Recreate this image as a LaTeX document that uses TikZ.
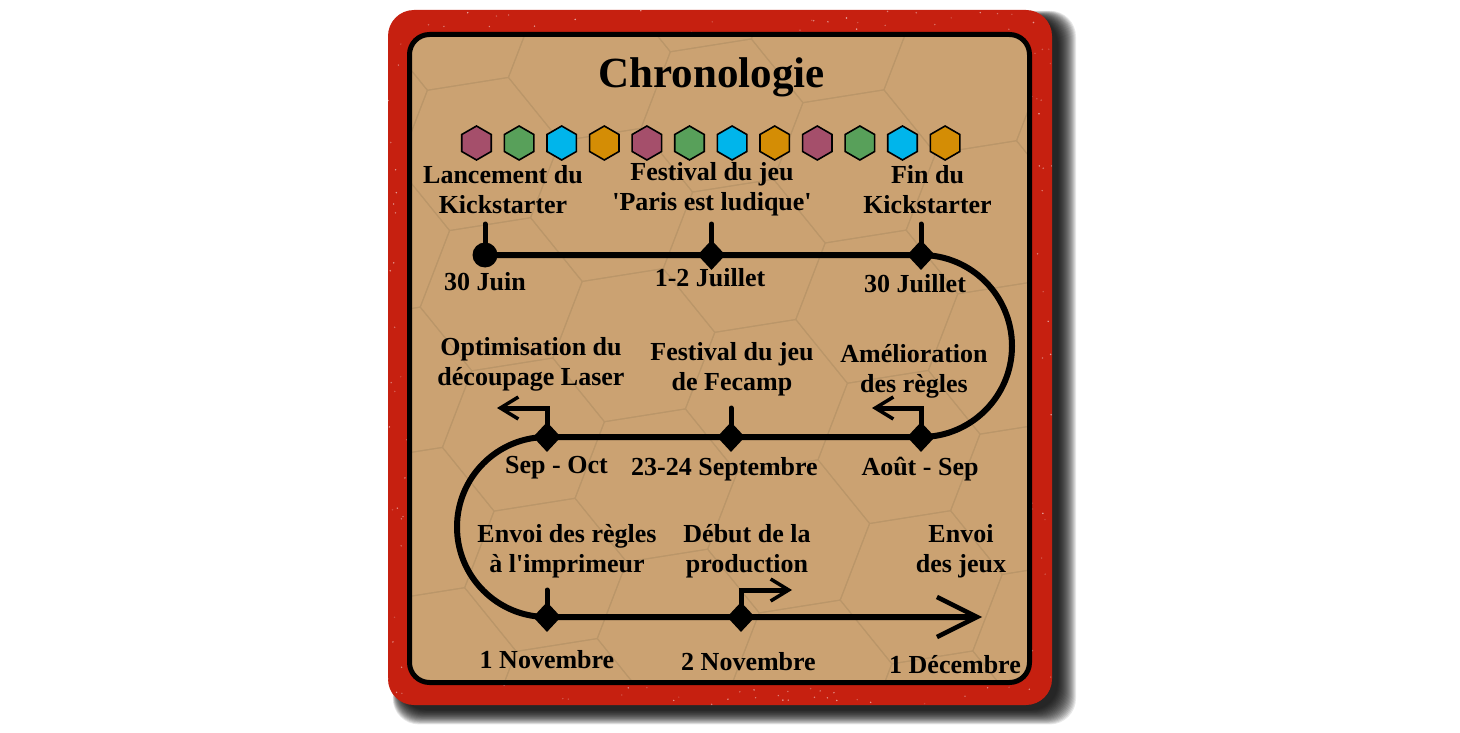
\documentclass[tikz,border=0pt]{standalone}
\usepackage{fontspec}
\setmainfont{Liberation Serif}
\usetikzlibrary{shapes.geometric,arrows.meta}
\definecolor{cardred}{HTML}{C62010}
\definecolor{cardtan}{HTML}{CBA272}
\definecolor{gridc}{HTML}{BA9669}
\definecolor{hpur}{HTML}{A54F6B}
\definecolor{hgrn}{HTML}{58A05A}
\definecolor{hcya}{HTML}{00B5EB}
\definecolor{hora}{HTML}{D48D05}
\tikzset{
  lbl/.style={font=\bfseries\fontsize{26}{30}\selectfont, align=center, inner sep=0pt},
  dlbl/.style={font=\bfseries\fontsize{26}{30}\selectfont, anchor=base, inner sep=0pt},
  dia/.style={diamond, fill=black, minimum width=28pt, minimum height=30pt, inner sep=0pt},
  dotm/.style={circle, fill=black, minimum size=25pt, inner sep=0pt},
  hexo/.style={regular polygon, regular polygon sides=6, rotate=30, minimum size=34pt, draw=black, line width=1.6pt, inner sep=0pt},
  tl/.style={line width=6pt},
  tickl/.style={line width=5pt, line cap=round},
  bent/.style={line width=5pt, -{Straight Barb[length=18pt,width=22pt,line width=3.5pt]}},
}
\begin{document}
\begin{tikzpicture}[x=1pt,y=-1pt]
\useasboundingbox (0,0) rectangle (1460,733);
\fill[white] (0,0) rectangle (1460,733);
% shadow
\foreach \k in {0,...,18}
  \fill[black, opacity=0.09, rounded corners=26pt] ({400-0.4*\k},{18-0.4*\k}) rectangle ({1058+\k},{710+0.8*\k});
% card
\fill[cardred, rounded corners=26pt] (388,10) rectangle (1052,705);
\begin{scope}
  \clip[rounded corners=26pt] (388,10) rectangle (1052,705);
  \pgfmathsetseed{7}
  \foreach \n in {1,...,900} {
    \pgfmathsetmacro\px{388+rnd*664}
    \pgfmathsetmacro\py{10+rnd*695}
    \pgfmathsetmacro\op{0.15+0.5*rnd}
    \fill[white, opacity=\op] (\px,\py) circle (0.8pt);
  }
\end{scope}
\fill[cardtan, rounded corners=20pt] (409.5,34.5) rectangle (1029.5,682.5);
% background hex grid
\begin{scope}
  \clip[rounded corners=18pt] (412,37) rectangle (1027,680);
  \begin{scope}[shift={(479,154)}, rotate=9]
    \foreach \i in {-4,...,5}
      \foreach \j in {-5,...,6}
        \draw[gridc, line width=1pt] ({\i*123},{\j*142.03+\i*71.01})
          +(0:82) -- +(60:82) -- +(120:82) -- +(180:82) -- +(240:82) -- +(300:82) -- cycle;
  \end{scope}
\end{scope}
\draw[black, line width=5pt, rounded corners=20pt] (409.5,34.5) rectangle (1029.5,682.5);

% title
\node[anchor=base, font=\bfseries\fontsize{43}{48}\selectfont, inner sep=0pt] (title) at (711.5,88) {Chronologie};

% hex tiles
\foreach [count=\k] \c in {hpur,hgrn,hcya,hora,hpur,hgrn,hcya,hora,hpur,hgrn,hcya,hora}
  \node[hexo, fill=\c] (h\k) at ({476.5+(\k-1)*42.6},143) {};

% markers
\node[dotm] (a1) at (485,255) {};
\node[dia] (a2) at (711.5,255) {};
\node[dia] (a3) at (921,255) {};
\node[dia] (b1) at (921,437) {};
\node[dia] (b2) at (731,437) {};
\node[dia] (b3) at (547,437) {};
\node[dia] (c1) at (547,617) {};
\node[dia] (c2) at (741,617) {};
\coordinate (cend) at (982,617);

% tick tops and bent arrow ends
\coordinate (a1t) at (485,224);
\coordinate (a2t) at (711.5,224);
\coordinate (a3t) at (921,224);
\coordinate (b2t) at (731,408);
\coordinate (c1t) at (547,590);
\coordinate (b1e) at (872,408);
\coordinate (b3e) at (497,408);
\coordinate (c2e) at (792,590);

% main timeline
\draw[tl, -{Straight Barb[length=40pt,width=40pt,line width=4.5pt]}]
  (a1.center) -- (a2.center) -- (a3.center)
  arc[start angle=90, end angle=-90, radius=91pt]
  -- (b2.center) -- (b3.center)
  arc[start angle=90, end angle=270, radius=90pt]
  -- (c2.center) -- (cend);

% ticks
\draw[tickl] (a1.center) -- (a1t);
\draw[tickl] (a2.center) -- (a2t);
\draw[tickl] (a3.center) -- (a3t);
\draw[tickl] (b2.center) -- (b2t);
\draw[tickl] (c1.center) -- (c1t);

% bent arrows
\draw[bent] (b1.center) |- (b1e);
\draw[bent] (b3.center) |- (b3e);
\draw[bent] (c2.center) |- (c2e);

% event labels
\node[lbl] (l1) at (503,192) {\strut Lancement du\\\strut Kickstarter};
\node[lbl] (l2) at (712,190) {\strut Festival du jeu\\\strut \textquotesingle Paris est ludique\textquotesingle};
\node[lbl] (l3) at (927.5,192) {\strut Fin du\\\strut Kickstarter};
\node[lbl] (l4) at (531,364) {\strut Optimisation du\\\strut découpage Laser};
\node[lbl] (l5) at (732,369) {\strut Festival du jeu\\\strut de Fecamp};
\node[lbl] (l6) at (914,371) {\strut Amélioration\\\strut des règles};
\node[lbl] (l7) at (567,551) {\strut Envoi des règles\\\strut à l\textquotesingle imprimeur};
\node[lbl] (l8) at (747,551) {\strut Début de la\\\strut production};
\node[lbl] (l9) at (961,551) {\strut Envoi\\\strut des jeux};

% date labels
\node[dlbl] (d1) at (485,290) {30 Juin};
\node[dlbl] (d2) at (710,286) {1-2 Juillet};
\node[dlbl] (d3) at (915,292) {30 Juillet};
\node[dlbl] (d4) at (556.5,473) {Sep - Oct};
\node[dlbl] (d5) at (724.5,475) {23-24 Septembre};
\node[dlbl] (d6) at (920,475) {Août - Sep};
\node[dlbl] (d7) at (547,668) {1 Novembre};
\node[dlbl] (d8) at (748.5,670) {2 Novembre};
\node[dlbl] (d9) at (955,673) {1 Décembre};
\end{tikzpicture}
\end{document}
